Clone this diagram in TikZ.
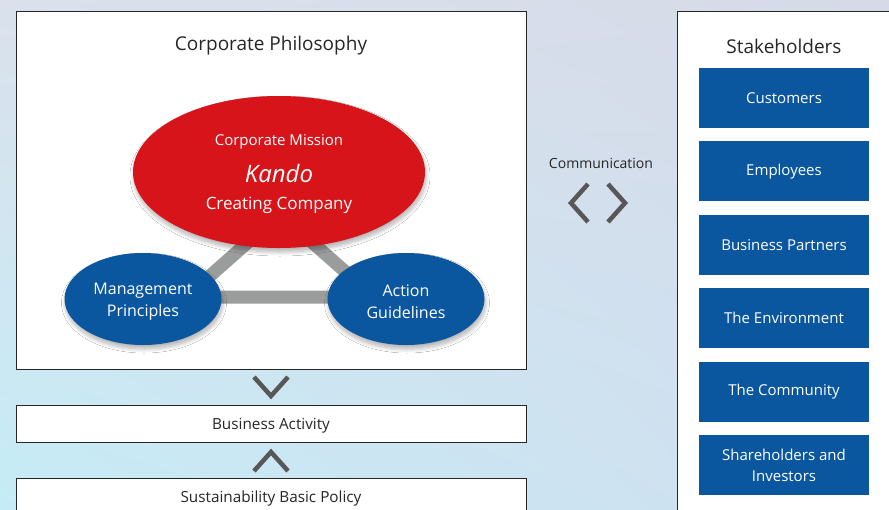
\documentclass[tikz,border=0pt]{standalone}
\usepackage{fontspec}
\setmainfont{Open Sans}
\usetikzlibrary{shapes.geometric,positioning,shadows.blur,shadings}
\definecolor{kred}{HTML}{D7141A}
\definecolor{kblue}{HTML}{0A57A0}
\definecolor{kgray}{HTML}{9B9D9C}
\definecolor{kdark}{HTML}{575757}
\definecolor{ktext}{HTML}{262626}
\definecolor{bgul}{HTML}{DAE1EC}
\definecolor{bgur}{HTML}{D6DAE8}
\definecolor{bgll}{HTML}{C5ECF6}
\definecolor{bglr}{HTML}{D0DFEF}

\begin{document}
\begin{tikzpicture}[x=1pt, y=-1pt,
    panel/.style={draw=black!85, fill=white, line width=0.8pt},
    oval/.style={ellipse, fill=#1, text=white, align=center, inner sep=0pt,
        blur shadow={shadow xshift=1pt, shadow yshift=-4pt, shadow blur steps=10,
            shadow blur radius=4pt, shadow opacity=30}},
    holder/.style={fill=kblue, text=white, minimum width=170pt, minimum height=60pt,
        align=center, inner sep=0pt, font=\fontsize{15}{21}\selectfont},
    title/.style={text=ktext, font=\fontsize{19}{23}\selectfont},
    bar/.style={text=ktext, font=\fontsize{15.3}{18}\selectfont},
    chev/.style={draw=kdark, line width=4.5pt}]
    \useasboundingbox (0,0) rectangle (889,509);
    \clip (0,0) rectangle (889,509);
    \shade[upper left=bgul, upper right=bgur, lower left=bgll, lower right=bglr]
        (0,0) rectangle (889,509);
    % left side
    \draw[panel] (16,11) rectangle (526,369);
    \node[title] (philo) at (271,46) {Corporate Philosophy};
    \coordinate (tl) at (186,297);
    \coordinate (tr) at (374,297);
    \coordinate (tt) at (280,214);
    \draw[kgray, line width=13pt] (tl) -- (tt) -- (tr) -- cycle;
    \node[oval=kred, minimum width=292pt, minimum height=152pt] (mission) at (279,172) {};
    \node[text=white, font=\fontsize{15}{18}\selectfont] at (279,142) {Corporate Mission};
    \node[text=white, font=\fontsize{24}{28}\selectfont\itshape] at (279,173) {Kando};
    \node[text=white, font=\fontsize{17}{20}\selectfont] at (279,205) {Creating Company};
    \node[oval=kblue, minimum width=157pt, minimum height=92pt, font=\fontsize{16}{22}\selectfont]
        (manage) at (143,299) {};
    \node[text=white, align=center, font=\fontsize{16}{22}\selectfont] at (143,302) {Management\\Principles};
    \node[oval=kblue, minimum width=157pt, minimum height=92pt, font=\fontsize{16}{22}\selectfont]
        (action) at (406,299) {};
    \node[text=white, align=center, font=\fontsize{16}{22}\selectfont] at (406,302) {Action\\Guidelines};
    \draw[chev] (254,377) -- (271,396) -- (288,377);
    \draw[panel] (16,405) rectangle (526,442);
    \node[bar] (activity) at (271,426) {Business Activity};
    \draw[chev] (254,471) -- (271,452) -- (288,471);
    \draw[panel] (16,478) rectangle (526,520);
    \node[bar] (policy) at (271,499) {Sustainability Basic Policy};
    % communication
    \node[text=ktext, font=\fontsize{14}{17}\selectfont] (comm) at (601,163) {Communication};
    \draw[chev] (588,184) -- (571,203) -- (588,222);
    \draw[chev] (608,184) -- (625,203) -- (608,222);
    % right side
    \draw[panel] (677,11) rectangle (900,520);
    \node[title] (stake) at (784,46) {Stakeholders};
    \node[holder] (cust) at (784,98) {Customers};
    \node[holder, below=13pt of cust] (empl) {Employees};
    \node[holder, below=13pt of empl] (partner) {Business Partners};
    \node[holder, below=13pt of partner] (env) {The Environment};
    \node[holder, below=13pt of env] (commu) {The Community};
    \node[holder, below=13pt of commu] (share) {Shareholders and\\Investors};
\end{tikzpicture}
\end{document}
